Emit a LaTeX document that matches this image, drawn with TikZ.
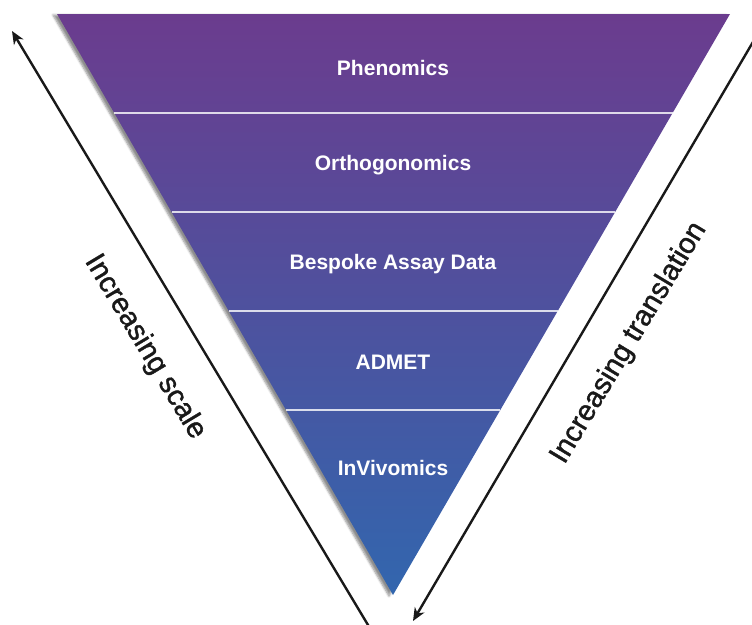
\documentclass[tikz,border=0pt]{standalone}
\usepackage{fontspec}
\setmainfont{Liberation Sans}
\newfontfamily\medfont{Liberation Sans}[FakeBold=1.3]
\usetikzlibrary{arrows.meta,calc,shadows.blur}

\definecolor{toppurple}{RGB}{107,60,142}
\definecolor{lowblue}{RGB}{50,102,174}

\tikzset{
    layer/.style={text=white, font=\bfseries\fontsize{21}{25}\selectfont},
    sidetext/.style={text=black!90, font=\medfont\fontsize{29}{34}\selectfont},
    divider/.style={white, opacity=0.8, line width=2pt},
    axis/.style={black!90, line width=2.4pt, -{Stealth[length=13pt,width=11pt,inset=4pt]}}
}

\begin{document}
\begin{tikzpicture}[x=1pt, y=-1pt]
    \useasboundingbox (0,0) rectangle (752,624);
    \clip (0,0) rectangle (752,624);

    % Embudo
    \coordinate (tl) at (57,14);
    \coordinate (tr) at (730,14);
    \coordinate (ap) at (393,595);
    \shade[top color=toppurple, bottom color=lowblue,
        blur shadow={shadow xshift=-4pt, shadow yshift=-1pt, shadow opacity=45, shadow blur steps=6}]
        (tl) -- (tr) -- (ap) -- cycle;

    % Separadores
    \foreach \k in {1,...,4}{
        \draw[divider] ($(tl)!\k*0.1704!(ap)$) -- ($(tr)!\k*0.1704!(ap)$);
    }

    % Capas
    \node[layer] (phen) at (393,68) {Phenomics};
    \node[layer] (orth) at (393,165) {Orthogonomics};
    \node[layer] (besp) at (393,264) {Bespoke Assay Data};
    \node[layer] (admet) at (393,362) {ADMET};
    \node[layer] (invivo) at (393,468) {InVivomics};

    % Flechas laterales
    \coordinate (scalefoot) at (371,630);
    \coordinate (scaletip) at (12,31);
    \draw[axis] (scalefoot) -- (scaletip);
    \coordinate (transstart) at (760,30);
    \coordinate (transtip) at (413,621);
    \draw[axis] (transstart) -- (transtip);

    \node[sidetext, rotate=-59] (scale) at (145,347) {Increasing scale};
    \node[sidetext, rotate=59] (trans) at (629,343) {Increasing translation};
\end{tikzpicture}
\end{document}
